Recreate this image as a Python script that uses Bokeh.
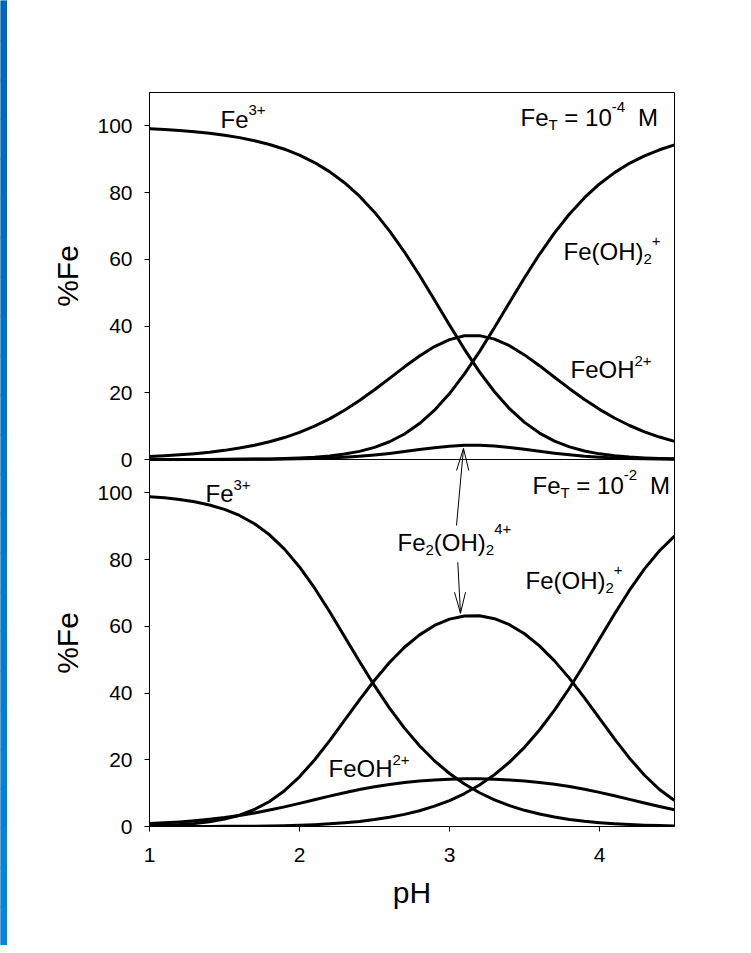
from math import pi
from bokeh.plotting import figure
from bokeh.models import Range1d, FixedTicker, Label, Span
from bokeh.layouts import column, row
from bokeh.core.properties import value
from bokeh.embed import file_html
from bokeh.resources import INLINE

# ---------------- data ----------------
ph = [1.0, 1.1, 1.2, 1.3, 1.4, 1.5, 1.6, 1.7, 1.8, 1.9, 2.0, 2.1, 2.2, 2.3, 2.4, 2.5, 2.6, 2.7,
      2.8, 2.9, 3.0, 3.1, 3.2, 3.3, 3.4, 3.5, 3.6, 3.7, 3.8, 3.9, 4.0, 4.1, 4.2, 4.3, 4.4, 4.5]

# Fe_T = 1e-4 M (upper panel), % of total Fe
top_fe3 = [99.11, 98.88, 98.59, 98.23, 97.77, 97.19, 96.47, 95.56, 94.42, 93.00, 91.22, 89.01,
           86.29, 82.96, 78.93, 74.13, 68.53, 62.18, 55.21, 47.82, 40.32, 33.03, 26.28, 20.30,
           15.23, 11.12, 7.92, 5.52, 3.77, 2.54, 1.69, 1.11, 0.72, 0.47, 0.30, 0.19]
top_feoh = [0.88, 1.11, 1.39, 1.75, 2.19, 2.74, 3.42, 4.27, 5.31, 6.58, 8.13, 9.99,
            12.19, 14.75, 17.67, 20.89, 24.32, 27.78, 31.04, 33.85, 35.93, 37.07, 37.12, 36.09,
            34.10, 31.35, 28.12, 24.66, 21.23, 17.98, 15.03, 12.43, 10.19, 8.30, 6.73, 5.43]
top_feoh2 = [0.00, 0.01, 0.01, 0.02, 0.03, 0.05, 0.07, 0.12, 0.18, 0.29, 0.45, 0.69,
             1.06, 1.62, 2.44, 3.63, 5.32, 7.65, 10.76, 14.78, 19.75, 25.64, 32.33, 39.57,
             47.07, 54.48, 61.51, 67.93, 73.60, 78.48, 82.59, 85.99, 88.77, 91.02, 92.83, 94.29]
top_dimer = [0.00, 0.00, 0.01, 0.01, 0.01, 0.02, 0.04, 0.06, 0.09, 0.13, 0.20, 0.31,
             0.46, 0.67, 0.97, 1.35, 1.83, 2.39, 2.99, 3.55, 4.00, 4.26, 4.27, 4.04,
             3.60, 3.04, 2.45, 1.88, 1.40, 1.00, 0.70, 0.48, 0.32, 0.21, 0.14, 0.09]

# Fe_T = 1e-2 M (lower panel), % of total Fe
bot_fe3 = [98.87, 98.51, 98.01, 97.32, 96.37, 95.05, 93.23, 90.75, 87.43, 83.13, 77.80, 71.49,
           64.44, 56.97, 49.45, 42.21, 35.50, 29.48, 24.22, 19.70, 15.89, 12.72, 10.11, 7.97,
           6.24, 4.85, 3.73, 2.83, 2.13, 1.58, 1.15, 0.82, 0.58, 0.40, 0.27, 0.18]
bot_feoh = [0.88, 1.11, 1.38, 1.73, 2.16, 2.68, 3.31, 4.05, 4.92, 5.89, 6.93, 8.02,
            9.10, 10.13, 11.07, 11.90, 12.60, 13.17, 13.62, 13.95, 14.17, 14.28, 14.28, 14.18,
            13.97, 13.66, 13.22, 12.66, 11.97, 11.16, 10.23, 9.21, 8.13, 7.04, 5.99, 5.01]
bot_feoh2 = [0.00, 0.01, 0.01, 0.02, 0.03, 0.05, 0.07, 0.11, 0.17, 0.26, 0.38, 0.56,
             0.79, 1.11, 1.53, 2.07, 2.76, 3.63, 4.72, 6.09, 7.78, 9.88, 12.44, 15.55,
             19.29, 23.73, 28.92, 34.87, 41.51, 48.71, 56.21, 63.71, 70.82, 77.21, 82.64, 87.04]
bot_dimer = [0.24, 0.38, 0.59, 0.93, 1.44, 2.22, 3.39, 5.09, 7.49, 10.73, 14.89, 19.93,
             25.66, 31.79, 37.96, 43.83, 49.15, 53.72, 57.44, 60.26, 62.16, 63.12, 63.17, 62.29,
             60.49, 57.77, 54.13, 49.64, 44.39, 38.56, 32.41, 26.26, 20.48, 15.36, 11.10, 7.77]

y_ticks = [0, 20, 40, 60, 80, 100]
x_ticks = [1, 2, 3, 4]
y_axis_label = "%Fe"
x_axis_label = "pH"

PANEL = 110          # each panel spans 0..110 %Fe
# ---------------- styling ----------------
FONT = "Liberation Sans"
MAIN = 24
SMALL = 15
TICK_FS = "21px"
AXIS_FS = "30px"
ADV = {'F': .611, 'e': .556, 'O': .778, 'H': .722, '(': .333, ')': .333, '+': .584,
       '-': .333, 'T': .611, '=': .584, 'M': .833, ' ': .278}
LIFT = 8   # px, baseline correction for labels


def text_w(s, size):
    return sum(ADV.get(c, .556) for c in s) * size


def rich(p, x, y, segments, rng="default"):
    """segments: (text, size, dy) or ("", gap_px, None)"""
    off = 0.0
    for txt, size, dy in segments:
        if dy is None:
            off += size
            continue
        p.add_layout(Label(x=x, y=y, x_offset=off, y_offset=dy + LIFT, text=txt,
                           y_range_name=rng,
                           text_font=FONT, text_font_size=f"{size}px",
                           text_color="black", text_baseline="alphabetic",
                           text_align="left"))
        off += text_w(txt, size)


H = 939
MB_TOP, MB_BOT = 86, 119
y_rng = Range1d(0, 2 * PANEL)

# one frame holding both panels: lower panel on the default range (0..220),
# upper panel on an extra range (-110..110) so that its 0 sits at the middle line
p = figure(width=658, height=H, title=None,
           x_range=Range1d(1, 4.5), y_range=y_rng,
           toolbar_location=None, output_backend="svg",
           min_border_left=62, min_border_right=71, min_border_top=MB_TOP, min_border_bottom=MB_BOT)
p.extra_y_ranges = {"top": Range1d(-PANEL, PANEL)}
p.background_fill_color = "white"
p.border_fill_color = "white"
p.outline_line_color = "black"
p.outline_line_width = 1
p.outline_line_alpha = 1.0
p.grid.grid_line_color = None

ya = p.yaxis[0]
ya.ticker = FixedTicker(ticks=y_ticks + [v + PANEL for v in y_ticks])
ya.major_label_overrides = {v + PANEL: str(v) for v in y_ticks}
ya.major_label_text_font = FONT
ya.major_label_text_font_size = TICK_FS
ya.major_label_text_color = "black"
ya.major_label_standoff = 12
ya.major_tick_in = 0
ya.major_tick_out = 5
ya.major_tick_line_color = "black"
ya.minor_tick_line_color = None
ya.axis_line_color = "black"

xa = p.xaxis[0]
xa.ticker = FixedTicker(ticks=x_ticks)
xa.axis_label = x_axis_label
xa.axis_label_text_font = FONT
xa.axis_label_text_font_size = AXIS_FS
xa.axis_label_text_font_style = "normal"
xa.axis_label_text_color = "black"
xa.axis_label_standoff = 11
xa.major_label_text_font = FONT
xa.major_label_text_font_size = TICK_FS
xa.major_label_text_color = "black"
xa.major_label_standoff = 16
xa.major_tick_in = 0
xa.major_tick_out = 5
xa.major_tick_line_color = "black"
xa.minor_tick_line_color = None
xa.axis_line_color = "black"

# separator between the panels
p.add_layout(Span(location=PANEL, dimension="width", line_color="black", line_width=1))

LW = 3
for ys in (top_fe3, top_feoh, top_feoh2, top_dimer):
    p.line(ph, ys, line_color="black", line_width=LW, line_join="round", y_range_name="top")
for ys in (bot_fe3, bot_feoh, bot_feoh2, bot_dimer):
    p.line(ph, ys, line_color="black", line_width=LW, line_join="round")

# ---------------- annotations ----------------
rich(p, 1.4733, 99.51, [("Fe", MAIN, 0), ("3+", SMALL, 9)], "top")
rich(p, 3.4733, 100.11, [("Fe", MAIN, 0), ("T", SMALL, -7), ("", 6.7, None), ("=", MAIN, 0),
                         ("", 6.7, None), ("10", MAIN, 0), ("-4", SMALL, 10), ("", 13, None),
                         ("M", MAIN, 0)], "top")
rich(p, 3.76, 59.95, [("Fe(OH)", MAIN, 0), ("2", SMALL, -8), ("+", SMALL, 10)], "top")
rich(p, 3.8067, 24.58, [("FeOH", MAIN, 0), ("2+", SMALL, 8)], "top")

rich(p, 1.3733, 97.41, [("Fe", MAIN, 0), ("3+", SMALL, 9)])
rich(p, 3.5533, 99.81, [("Fe", MAIN, 0), ("T", SMALL, -7), ("", 6.7, None), ("=", MAIN, 0),
                        ("", 6.7, None), ("10", MAIN, 0), ("-2", SMALL, 10), ("", 13, None),
                        ("M", MAIN, 0)])
rich(p, 2.6533, 82.73, [("Fe", MAIN, 0), ("2", SMALL, -8), ("(OH)", MAIN, 0),
                        ("2", SMALL, -8), ("4+", SMALL, 13)])
rich(p, 3.5067, 71.34, [("Fe(OH)", MAIN, 0), ("2", SMALL, -8), ("+", SMALL, 10)])
rich(p, 2.1933, 14.99, [("FeOH", MAIN, 0), ("2+", SMALL, 8)])

# arrow to the upper-panel dimer curve (upper-panel units)
p.segment([3.0467, 3.0467, 3.1287], [-19.78, -3.30, -3.30],
          [3.0933, 3.0933, 3.0933], [3.30, 3.30, 3.30],
          line_color="black", line_width=1, y_range_name="top")
# arrow to the lower-panel dimer curve (lower-panel units)
p.segment([3.0553, 3.0333, 3.1067], [79.22, 70.22, 70.22],
          [3.0733, 3.0733, 3.0733], [63.93, 63.93, 63.93],
          line_color="black", line_width=1)

# ---------------- %Fe titles (one per panel) in a strip left of the axis ----------------
LBL_W = 80
lab = figure(width=LBL_W, height=H, title=None, x_range=Range1d(0, LBL_W), y_range=y_rng,
             toolbar_location=None, output_backend="svg", x_axis_location=None,
             y_axis_location=None, min_border_left=0, min_border_right=0,
             min_border_top=MB_TOP, min_border_bottom=MB_BOT, outline_line_color=None,
             background_fill_color="white", border_fill_color="white")
lab.grid.grid_line_color = None
lab.text(x=[59.5, 59.5], y=[PANEL / 2, PANEL * 1.5], text=[y_axis_label, y_axis_label],
         angle=pi / 2, text_align="center", text_baseline="middle",
         text_font=value(FONT), text_font_size=value(AXIS_FS), text_color="black")

# ---------------- blue slide frame ----------------
TOP_BLUE = "#0066b3"
band_top = figure(width=LBL_W + 658, height=6, title=None, x_range=Range1d(0, 1),
                  y_range=Range1d(0, 1), toolbar_location=None, output_backend="svg",
                  x_axis_location=None, y_axis_location=None, min_border=0,
                  outline_line_color=None, background_fill_color=TOP_BLUE,
                  border_fill_color=TOP_BLUE)
band_top.grid.grid_line_color = None
band_top.quad(left=[0], right=[1], bottom=[0], top=[1], fill_color=TOP_BLUE, line_color=None)

band_left = figure(width=7, height=H + 6, title=None, x_range=Range1d(0, 1), y_range=Range1d(0, 1),
                   toolbar_location=None, output_backend="svg", x_axis_location=None,
                   y_axis_location=None, min_border=0, outline_line_color=None,
                   background_fill_color=TOP_BLUE, border_fill_color=TOP_BLUE)
band_left.grid.grid_line_color = None
n = 24
c_top = (0, 102, 179)
c_bot = (8, 134, 214)
cols, bots, tops = [], [], []
for i in range(n):
    t = i / (n - 1)
    r = int(c_top[0] + (c_bot[0] - c_top[0]) * t)
    g = int(c_top[1] + (c_bot[1] - c_top[1]) * t)
    b = int(c_top[2] + (c_bot[2] - c_top[2]) * t)
    cols.append("#%02x%02x%02x" % (r, g, b))
    tops.append(1 - i / n)
    bots.append(1 - (i + 1) / n - 0.002)
band_left.quad(left=[0] * n, right=[1] * n, bottom=bots, top=tops, fill_color=cols, line_color=None)

layout = row(band_left, column(band_top, row(lab, p)))

open("out.html", "w").write(file_html(layout, INLINE))
